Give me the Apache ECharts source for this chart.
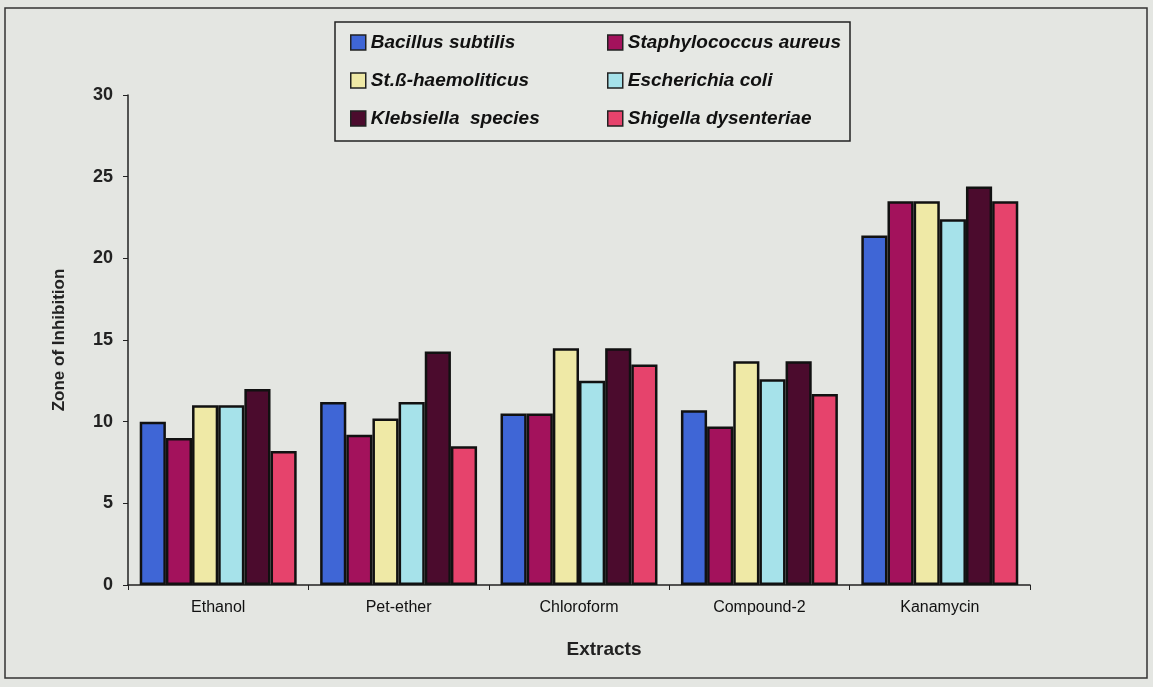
<!DOCTYPE html>
<html><head><meta charset="utf-8">
<script src="https://cdn.jsdelivr.net/npm/echarts@6/dist/echarts.min.js"></script>
<style>html,body{margin:0;padding:0;background:#e4e6e2;}#c{width:1153px;height:687px;}</style>
</head><body><div id="c"></div>
<script>
const categories = ['Ethanol', 'Pet-ether', 'Chloroform', 'Compound-2', 'Kanamycin'];
const seriesNames = ['Bacillus subtilis', 'Staphylococcus aureus', 'St.ß-haemoliticus', 'Escherichia coli', 'Klebsiella  species', 'Shigella dysenteriae'];
const bacillus = [10, 11.2, 10.5, 10.7, 21.4];
const staph = [9, 9.2, 10.5, 9.7, 23.5];
const strep = [11, 10.2, 14.5, 13.7, 23.5];
const ecoli = [11, 11.2, 12.5, 12.6, 22.4];
const klebsiella = [12, 14.3, 14.5, 13.7, 24.4];
const shigella = [8.2, 8.5, 13.5, 11.7, 23.5];
const yTicks = [0, 5, 10, 15, 20, 25, 30];

const values = [bacillus, staph, strep, ecoli, klebsiella, shigella];
const colors = ['#3f66d6', '#a3125c', '#efe9a6', '#a6e2ea', '#4b0b2d', '#e6436c'];

const legendPos = [
  {left: 345, top: 28}, {left: 602, top: 28},
  {left: 345, top: 66}, {left: 602, top: 66},
  {left: 345, top: 104}, {left: 602, top: 104}
];
const legends = seriesNames.map((n, i) => ({
  data: [n], left: legendPos[i].left, top: legendPos[i].top,
  itemWidth: 15, itemHeight: 15, itemGap: 5,
  icon: 'rect',
  itemStyle: {borderColor: '#222', borderWidth: 1.5},
  textStyle: {fontFamily: 'Liberation Sans, Arial', fontStyle: 'italic', fontWeight: 'bold', fontSize: 19, color: '#111'}
}));

const chart = echarts.init(document.getElementById('c'));
chart.setOption({
  backgroundColor: '#e4e6e2',
  animation: false,
  color: colors,
  graphic: [
    {type: 'rect', shape: {x: 5, y: 8, width: 1142, height: 670}, style: {fill: 'none', stroke: '#333', lineWidth: 1.5}, z: -1},
    {type: 'rect', shape: {x: 335, y: 22, width: 515, height: 119}, style: {fill: '#e6e8e4', stroke: '#222', lineWidth: 1.5}, z: -1}
  ],
  legend: legends,
  grid: {left: 128, right: 123, top: 95, bottom: 102},
  xAxis: {
    type: 'category', data: categories,
    name: 'Extracts', nameLocation: 'middle', nameGap: 55,
    nameTextStyle: {fontFamily: 'Liberation Sans, Arial', fontWeight: 'bold', fontSize: 19, color: '#222', padding: [0, 0, 0, 50]},
    axisLine: {lineStyle: {color: '#222', width: 1.5}},
    axisTick: {show: true, alignWithLabel: false, length: 5, lineStyle: {color: '#222'}},
    axisLabel: {fontFamily: 'Liberation Sans, Arial', fontSize: 16, color: '#111', margin: 15}
  },
  yAxis: {
    type: 'value', min: 0, max: 30, interval: 5,
    name: 'Zone of Inhibition', nameLocation: 'middle', nameGap: 60, nameRotate: 90,
    nameTextStyle: {fontFamily: 'Liberation Sans, Arial', fontWeight: 'bold', fontSize: 17, color: '#222'},
    axisLine: {show: true, lineStyle: {color: '#222', width: 1.5}},
    axisTick: {show: true, length: 5, lineStyle: {color: '#222'}},
    splitLine: {show: false},
    axisLabel: {fontFamily: 'Liberation Sans, Arial', fontWeight: 'bold', fontSize: 18, color: '#222', margin: 15,
      formatter: v => yTicks.includes(v) ? String(v) : ''}
  },
  series: seriesNames.map((n, i) => ({
    name: n, type: 'bar', data: values[i],
    barGap: '0%', barCategoryGap: '13%',
    itemStyle: {color: colors[i], borderColor: '#111', borderWidth: 2.5}
  }))
});
</script></body></html>
